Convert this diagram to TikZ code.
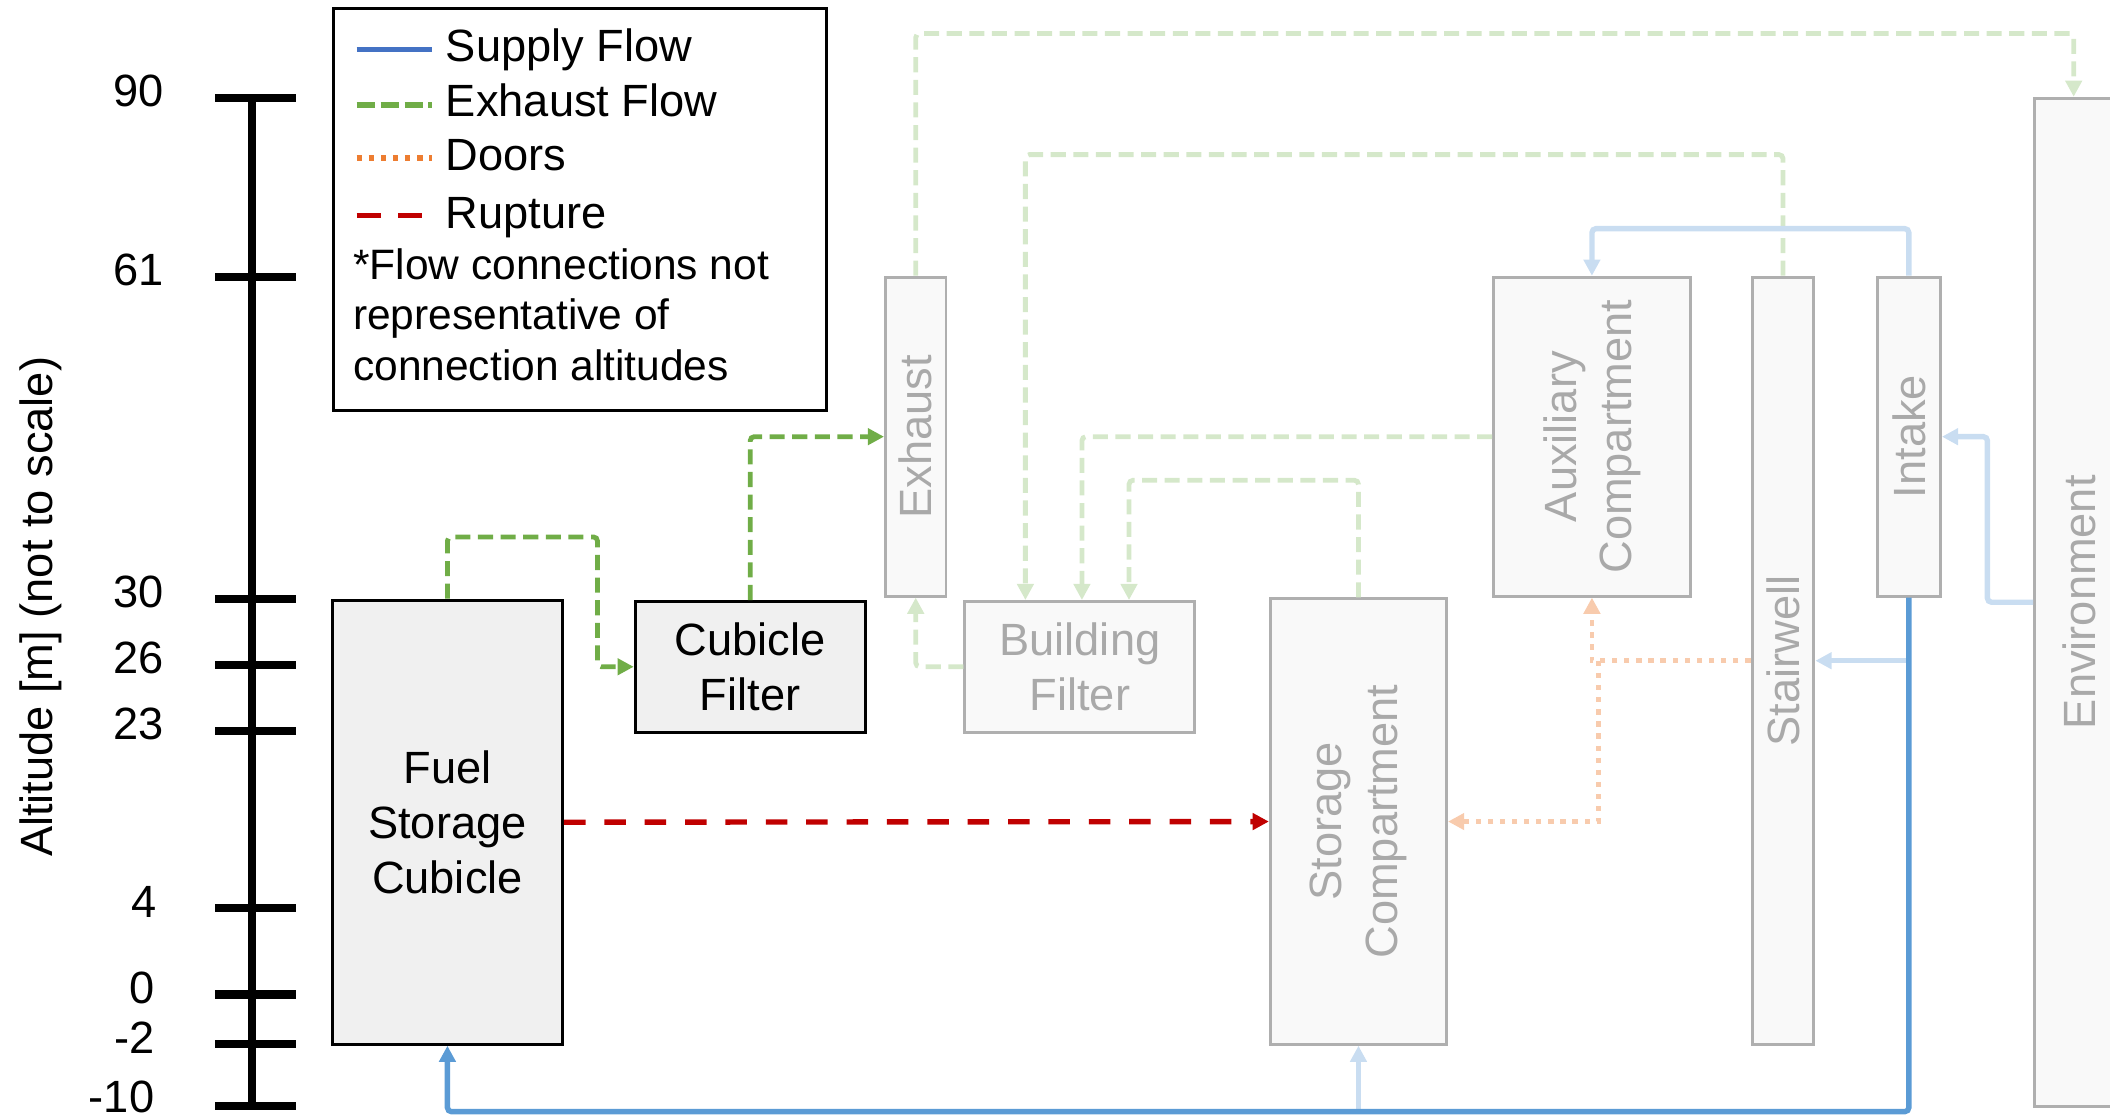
\documentclass[tikz,border=0pt]{standalone}
\usepackage{fontspec}
\setmainfont{Liberation Sans}
\usetikzlibrary{arrows.meta,calc}
\definecolor{supply}{HTML}{4472C4}
\definecolor{supplyline}{HTML}{5B9BD5}
\definecolor{exh}{HTML}{70AD47}
\definecolor{door}{HTML}{ED7D31}
\definecolor{rupt}{HTML}{C00000}
\definecolor{lexh}{HTML}{D5E8CA}
\definecolor{lsup}{HTML}{C9DDF1}
\definecolor{ldoor}{HTML}{F8CBAD}
\definecolor{gborder}{HTML}{AFAFAF}
\definecolor{gfill}{HTML}{F9F9F9}
\definecolor{gtext}{HTML}{A9A9A9}
\definecolor{bfill}{HTML}{F0F0F0}
\begin{document}
\begin{tikzpicture}[x=0.5pt,y=-0.5pt,
  every node/.style={font=\fontsize{16.8}{20.5}\selectfont, inner sep=0pt},
  notetext/.style={anchor=base west, font=\fontsize{15.8}{19}\selectfont},
  blackbox/.style={draw=black, line width=1.1pt, fill=bfill, align=center},
  graybox/.style={draw=gborder, line width=1.1pt, fill=gfill},
  graytext/.style={text=gtext, align=center},
  arrowtip/.style={-{Triangle[length=6pt,width=6pt]}},
  exhflow/.style={draw=exh, line width=1.8pt, dash pattern=on 5.6pt off 2.8pt, rounded corners=1.5pt, arrowtip},
  lexhflow/.style={draw=lexh, line width=1.8pt, dash pattern=on 5.6pt off 2.8pt, rounded corners=1.5pt, arrowtip},
  supflow/.style={draw=supplyline, line width=2pt, rounded corners=1.5pt, arrowtip},
  lsupflow/.style={draw=lsup, line width=2pt, rounded corners=1.5pt, arrowtip},
  ldoorflow/.style={draw=ldoor, line width=1.8pt, dash pattern=on 2pt off 2.5pt, arrowtip},
  ruptflow/.style={draw=rupt, line width=2pt, dash pattern=on 8pt off 7pt, arrowtip},
  ticklbl/.style={anchor=base east},
  axisline/.style={line width=3pt, draw=black}
]
\useasboundingbox (0,0) rectangle (1568,831);

% ---------- axis ----------
\draw[axisline] (187,73) -- (187,823);
\foreach \yy in {73,206,445,494,543,675,739,776,822}
  \draw[axisline] (160,\yy) -- (220,\yy);
\node[ticklbl] (t90) at (122,79.5) {90};
\node[ticklbl] (t61) at (122,212.5) {61};
\node[ticklbl] (t30) at (122,451.5) {30};
\node[ticklbl] (t26) at (122,500.5) {26};
\node[ticklbl] (t23) at (122,549.5) {23};
\node[ticklbl] (t4) at (117,681.5) {4};
\node[ticklbl] (t0) at (115,745.5) {0};
\node[ticklbl] (tm2) at (115,782.5) {-2};
\node[ticklbl] (tm10) at (115,826.5) {-10};
\node[rotate=90] (alt) at (30,451) {Altitude [m] (not to scale)};

% ---------- legend ----------
\node[draw=black, line width=1.1pt, minimum width=183pt, minimum height=149.5pt, anchor=north west] (legend) at (247,5) {};
\draw[supply, line width=2pt] (265,37) -- (321,37);
\draw[exh, line width=2pt, dash pattern=on 6.7pt off 2.2pt] (265,78) -- (321,78);
\draw[door, line width=2pt, dash pattern=on 2pt off 2.5pt] (265,117.5) -- (321,117.5);
\draw[rupt, line width=2pt, dash pattern=on 8.9pt off 6.6pt] (265,160) -- (314.5,160);
\node[anchor=base west] (lsup) at (331,45.5) {Supply Flow};
\node[anchor=base west] (lexh) at (331,86.7) {Exhaust Flow};
\node[anchor=base west] (ldoor) at (331,127) {Doors};
\node[anchor=base west] (lrup) at (331,170) {Rupture};
\node[notetext] (n1) at (262,207.6) {*Flow connections not};
\node[notetext] (n2) at (262,244.6) {representative of};
\node[notetext] (n3) at (262,283) {connection altitudes};

% ---------- boxes ----------
\node[blackbox, minimum width=85.5pt, minimum height=165pt] (fuel) at (332.5,611) {Fuel\\Storage\\Cubicle};
\node[blackbox, minimum width=85.5pt, minimum height=48.5pt] (cf) at (557.5,495.5) {Cubicle\\Filter};
\node[graybox, minimum width=22.5pt, minimum height=118.5pt] (exhaust) at (680.5,324.5) {};
\node[graytext, rotate=90] (exhaustt) at (exhaust) {Exhaust};
\node[graybox, graytext, minimum width=85.5pt, minimum height=48.5pt] (bf) at (802.5,495.5) {Building\\Filter};
\node[graybox, minimum width=65.5pt, minimum height=165.5pt] (stor) at (1009.5,610.5) {};
\node[graytext, rotate=90] (stort) at (stor) {Storage\\Compartment};
\node[graybox, minimum width=73pt, minimum height=118.5pt] (aux) at (1183,324.5) {};
\node[graytext, rotate=90] (auxt) at (aux) {Auxiliary\\Compartment};
\node[graybox, minimum width=23pt, minimum height=285pt] (stair) at (1325,491) {};
\node[graytext, rotate=90] (stairt) at (stair) {Stairwell};
\node[graybox, minimum width=23.5pt, minimum height=118.5pt] (intake) at (1418.5,324.5) {};
\node[graytext, rotate=90] (intaket) at (intake) {Intake};
\node[graybox, minimum width=44pt, minimum height=374.5pt] (env) at (1556,447.5) {};
\node[graytext, rotate=90] (envt) at ($(env)+(-11,0)$) {Environment};

% ---------- faded connectors ----------
\draw[lexhflow] (exhaust.north) -- ++(0,-180) -| ($(env.north)+(-15,0)$);
\draw[lexhflow] (bf.west) -| (exhaust.south);
\draw[lexhflow] (stair.north) -- ++(0,-90) -| ($(bf.north)+(-40.5,0)$);
\draw[lexhflow] (aux.west) -| ($(bf.north)+(1.5,0)$);
\draw[lexhflow] (stor.north) -- ++(0,-87) -| ($(bf.north)+(36.5,0)$);
\draw[lsupflow] (intake.north) -- ++(0,-35) -| (aux.north);
\draw[lsupflow] (env.west) -- ++(-34,0) |- (intake.east);
\draw[lsupflow] (intake.south |- stair.east) -- (stair.east);
\draw[ldoorflow] (stair.west) -| (aux.south);
\draw[ldoorflow] ($(stair.west -| aux.south)+(5,0)$) |- (stor.east);

% ---------- main connectors ----------
\path (intake.south) ++(0,382) coordinate (bot);
\draw[lsupflow] (stor.south |- bot) -- (stor.south);
\draw[supflow] (intake.south) -- (bot) -| (fuel.south);
\draw[exhflow] (fuel.north) |- (444,399) |- (cf.west);
\draw[exhflow] (cf.north) |- (exhaust.west);
\draw[ruptflow] (fuel.east) -- (stor.west);
\end{tikzpicture}
\end{document}
